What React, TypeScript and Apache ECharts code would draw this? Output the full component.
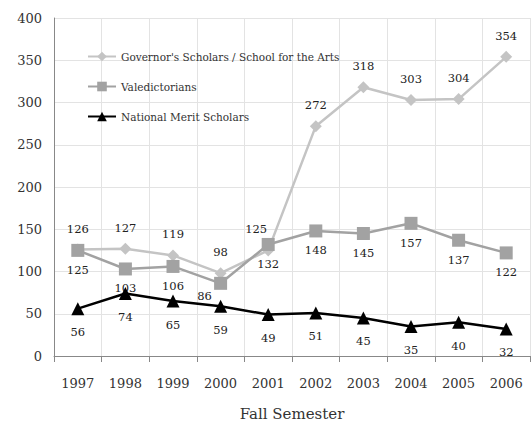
import React, { useEffect, useRef } from "react";
import * as echarts from "echarts";

const years = ["1997", "1998", "1999", "2000", "2001", "2002", "2003", "2004", "2005", "2006"];
const governors = [126, 127, 119, 98, 125, 272, 318, 303, 304, 354];
const valedictorians = [125, 103, 106, 86, 132, 148, 145, 157, 137, 122];
const nationalMerit = [56, 74, 65, 59, 49, 51, 45, 35, 40, 32];

const FONT = "DejaVu Serif";

export default function App() {
  const ref = useRef<HTMLDivElement>(null);
  useEffect(() => {
    const chart = echarts.init(ref.current!, null, { renderer: "svg" });
    const label = (pos: string, distance: number) => ({
      show: true,
      position: pos,
      fontFamily: FONT,
      fontSize: 11.5,
      color: "#222",
      distance,
    });
    const govData = governors.map((v, i) =>
      i === 4 ? { value: v, label: { offset: [-12, 0] } } : v
    );
    const valData = valedictorians.map((v, i) =>
      i === 3 ? { value: v, label: { offset: [-16, -7] } } : v
    );
    chart.setOption({
      animation: false,
      backgroundColor: "#fff",
      grid: { left: 54, top: 18, right: 1, bottom: 74 },
      legend: {
        left: 82,
        top: 46,
        orient: "vertical",
        itemGap: 19,
        itemWidth: 28,
        itemHeight: 12,
        textStyle: { fontFamily: FONT, fontSize: 10.5, color: "#333" },
        data: ["Governor's Scholars / School for the Arts", "Valedictorians", "National Merit Scholars"],
      },
      xAxis: {
        type: "category",
        data: years,
        boundaryGap: true,
        name: "Fall Semester",
        nameLocation: "middle",
        nameGap: 50,
        nameTextStyle: { fontFamily: FONT, fontSize: 15, color: "#333" },
        axisLine: { lineStyle: { color: "#888" } },
        axisTick: { show: true, alignWithLabel: false, length: 6, lineStyle: { color: "#888" } },
        axisLabel: { fontFamily: FONT, fontSize: 13, color: "#333", margin: 21 },
        splitLine: { show: true, lineStyle: { color: "#e3e3e3" } },
      },
      yAxis: {
        type: "value",
        min: 0,
        max: 400,
        interval: 50,
        axisLine: { show: true, lineStyle: { color: "#888" } },
        axisTick: { show: false },
        axisLabel: { fontFamily: FONT, fontSize: 13, color: "#333", margin: 12 },
        splitLine: { show: true, lineStyle: { color: "#e3e3e3" } },
      },
      series: [
        {
          name: "Governor's Scholars / School for the Arts",
          type: "line",
          data: govData,
          symbol: "diamond",
          symbolSize: 12,
          color: "#c4c4c4",
          lineStyle: { width: 2.5, color: "#c4c4c4" },
          label: label("top", 9),
          z: 2,
        },
        {
          name: "Valedictorians",
          type: "line",
          data: valData,
          symbol: "rect",
          symbolSize: 13,
          color: "#a2a2a2",
          lineStyle: { width: 2.5, color: "#a2a2a2" },
          label: label("bottom", 7),
          z: 3,
        },
        {
          name: "National Merit Scholars",
          type: "line",
          data: nationalMerit,
          symbol: "triangle",
          symbolSize: 13,
          color: "#000",
          lineStyle: { width: 2.5, color: "#000" },
          label: label("bottom", 11),
          z: 4,
        },
      ],
    });
    return () => chart.dispose();
  }, []);
  return <div ref={ref} style={{ width: 531, height: 430, position: "absolute", left: 0, top: 0 }} />;
}
